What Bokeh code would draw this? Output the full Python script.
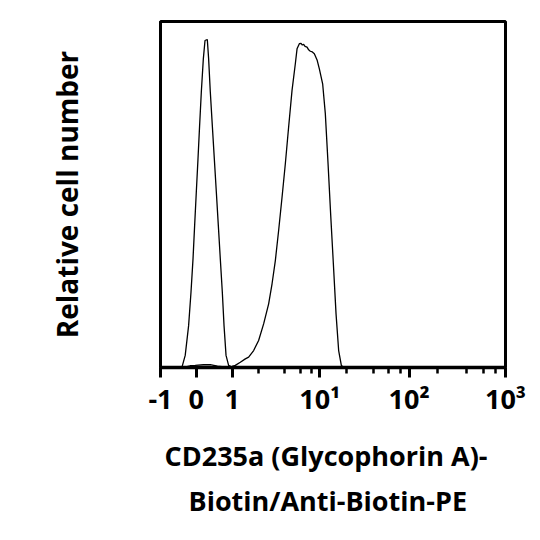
import numpy as np
from bokeh.plotting import figure
from bokeh.models import Range1d, FixedTicker, Title
from bokeh.embed import file_html
from bokeh.resources import INLINE

# ---- axis ticks (fluorescence values) ----
TICK_VALUES = [-1, 0, 1, 10, 100, 1000]
TICK_LABELS = ["-1", "0", "1", "10\u00b9", "10\u00b2", "10\u00b3"]
MINOR_VALUES = [2, 4, 6, 8, 20, 40, 60, 80, 200, 400, 600, 800]

# ---- histograms: x in biexponential display units, y = relative cell number ----
CONTROL_X = [-0.40, -0.31, -0.215, -0.148, -0.092, -0.047, 0.0, 0.047, 0.092, 0.140,
             0.196, 0.243, 0.307, 0.344, 0.391, 0.447, 0.503, 0.559, 0.615, 0.670,
             0.726, 0.774, 0.830, 0.902, 0.997]
CONTROL_Y = [0.1, 3.5, 12.1, 21.8, 31.4, 41.0, 50.7, 60.3, 69.9, 79.6,
             89.2, 94.5, 94.8, 89.2, 79.6, 69.9, 60.3, 50.7, 41.0, 31.4,
             21.8, 12.1, 3.5, 0.6, 0.1]

STAINED_X = [-0.36, -0.17, -0.03, 0.20, 0.39, 0.59, 0.78, 0.92, 1.00, 1.089,
             1.229, 1.369, 1.461, 1.601, 1.740, 1.880, 2.020, 2.115, 2.207, 2.299,
             2.394, 2.486, 2.578, 2.673, 2.765, 2.813, 2.877, 2.925, 2.961, 2.997,
             3.036, 3.092, 3.137, 3.184, 3.240, 3.296, 3.372, 3.436, 3.528, 3.603,
             3.679, 3.751, 3.827, 3.902, 3.975, 4.050, 4.115]
STAINED_Y = [0.0, 0.5, 0.6, 0.8, 0.8, 0.4, 0.2, 0.1, 0.3, 0.6,
             1.5, 2.5, 3.0, 4.9, 7.8, 12.6, 18.4, 24.2, 30.9, 39.6,
             49.2, 58.9, 69.5, 80.1, 87.8, 92.1, 93.6, 93.7, 93.2, 93.4,
             92.8, 92.6, 91.8, 91.4, 91.2, 90.7, 88.9, 86.3, 82.0, 73.3,
             58.9, 44.4, 30.0, 15.5, 4.9, 0.6, 0.1]

X_LABEL_LINES = ["CD235a (Glycophorin A)-", "Biotin/Anti-Biotin-PE"]
Y_LABEL = "Relative cell number"


def disp(v):
    """biexponential-like display position: linear around zero, log-like above 1"""
    if v <= 1:
        return float(v)
    L = np.log10(v)
    return 1.0 + (88.4 * L - 1.65 * L ** 2 + 0.85 * L ** 3) / 35.8


major = [round(disp(v), 5) for v in TICK_VALUES]
minor = [round(disp(v), 5) for v in MINOR_VALUES]

FONT = "Open Sans"

p = figure(width=540, height=540, output_backend="svg", toolbar_location=None,
           x_range=Range1d(major[0], major[-1]), y_range=Range1d(0, 100),
           min_border_left=160, min_border_right=35, min_border_top=21,
           min_border_bottom=173)

p.line(CONTROL_X, CONTROL_Y, line_color="black", line_width=1.3)
p.line(STAINED_X, STAINED_Y, line_color="black", line_width=1.3)

p.xgrid.grid_line_color = None
p.ygrid.grid_line_color = None
p.outline_line_color = "black"
p.outline_line_width = 3
p.background_fill_color = "white"
p.border_fill_color = "white"

xa = p.xaxis[0]
xa.ticker = FixedTicker(ticks=major, minor_ticks=minor)
xa.major_label_overrides = {m: l for m, l in zip(major, TICK_LABELS)}
xa.axis_line_width = 3.5
xa.axis_line_color = "black"
xa.major_tick_in = 0
xa.major_tick_out = 10
xa.major_tick_line_width = 3
xa.minor_tick_in = 0
xa.minor_tick_out = 6
xa.minor_tick_line_width = 2.5
xa.major_label_text_font = FONT
xa.major_label_text_font_style = "bold"
xa.major_label_text_font_size = "27px"
xa.major_label_text_color = "black"
xa.major_label_standoff = 2

# x-axis title, two centred lines (placed slightly left of frame centre as in the original)
for line, off, so in zip(X_LABEL_LINES, (4, 28), (30, -17)):
    t = Title(text=line, align="left", offset=off, standoff=so,
              text_font=FONT, text_font_style="bold", text_font_size="27px",
              text_color="black", text_line_height=1.0)
    p.add_layout(t, "below")

ya = p.yaxis[0]
ya.ticker = FixedTicker(ticks=[])
ya.major_tick_line_color = None
ya.minor_tick_line_color = None
ya.axis_line_width = 3
ya.axis_line_color = "black"
ya.axis_label = Y_LABEL
ya.axis_label_text_font = FONT
ya.axis_label_text_font_style = "bold"
ya.axis_label_text_font_size = "28px"
ya.axis_label_text_color = "black"
ya.axis_label_standoff = 75

open("out.html", "w").write(file_html(p, INLINE))
